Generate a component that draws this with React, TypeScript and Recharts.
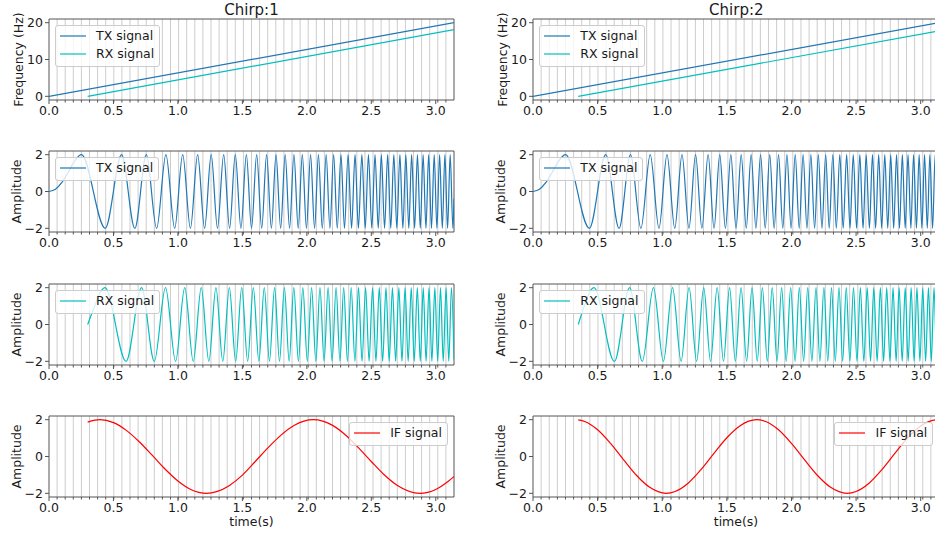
import React from 'react';
import { LineChart, Line, XAxis, YAxis, CartesianGrid, ReferenceArea, Legend } from 'recharts';

const FONT = '"DejaVu Sans", Verdana, sans-serif';
const TEXT = '#1a1a1a';
const SPINE = '#555555';
const GRID = '#cdcdcd';
const TX_COLOR = '#1f77b4';
const RX_COLOR = '#00bfbf';
const IF_COLOR = '#ff0000';

const X_MAX = 3.1416;
const xMajorTicks = [0, 0.5, 1.0, 1.5, 2.0, 2.5, 3.0];
const xMinorTicks = [0.0628, 0.1257, 0.1885, 0.2513, 0.3142, 0.377, 0.4398, 0.5027, 0.5655, 0.6283,
  0.6912, 0.754, 0.8168, 0.8796, 0.9425, 1.0053, 1.0681, 1.131, 1.1938, 1.2566,
  1.3195, 1.3823, 1.4451, 1.508, 1.5708, 1.6336, 1.6965, 1.7593, 1.8221, 1.885,
  1.9478, 2.0106, 2.0735, 2.1363, 2.1991, 2.2619, 2.3248, 2.3876, 2.4504, 2.5133,
  2.5761, 2.6389, 2.7018, 2.7646, 2.8274, 2.8903, 2.9531, 3.0159, 3.0788];
const freqTicks = [0, 10, 20];
const ampTicks = [-2, 0, 2];
const freqDomain = [-1, 21];
const ampDomain = [-2.2, 2.2];
const chirpTitles = ['Chirp:1', 'Chirp:2'];

// Frequency (Hz) vs time
const txFreqT = [0, 3.1416];
const txFreqV = [0, 20];
const rx1FreqT = [0.3, 3.1416];
const rx1FreqV = [0, 18.09];
const rx2FreqT = [0.35, 3.1416];
const rx2FreqV = [0, 17.77];

// TX amplitude (start, then crest/trough times)
const txAmpT = [0, 0.05, 0.1, 0.15, 0.2,
  0.252, 0.436, 0.563, 0.666, 0.755, 0.835, 0.907, 0.975, 1.037, 1.097,
  1.153, 1.207, 1.258, 1.307, 1.355, 1.401, 1.445, 1.489, 1.531, 1.571,
  1.611, 1.650, 1.688, 1.725, 1.761, 1.797, 1.832, 1.866, 1.900, 1.933,
  1.965, 1.997, 2.029, 2.060, 2.090, 2.120, 2.150, 2.179, 2.208, 2.236,
  2.265, 2.292, 2.320, 2.347, 2.374, 2.400, 2.427, 2.453, 2.478, 2.504,
  2.529, 2.554, 2.578, 2.603, 2.627, 2.651, 2.675, 2.698, 2.722, 2.745,
  2.768, 2.791, 2.813, 2.836, 2.858, 2.880, 2.902, 2.924, 2.945, 2.967,
  2.988, 3.009, 3.030, 3.051, 3.071, 3.092, 3.112, 3.133,
  3.1416];
const txAmpV = [0, 0.12, 0.49, 1.06, 1.67,
  2, -2, 2, -2, 2, -2, 2, -2, 2, -2,
  2, -2, 2, -2, 2, -2, 2, -2, 2, -2,
  2, -2, 2, -2, 2, -2, 2, -2, 2, -2,
  2, -2, 2, -2, 2, -2, 2, -2, 2, -2,
  2, -2, 2, -2, 2, -2, 2, -2, 2, -2,
  2, -2, 2, -2, 2, -2, 2, -2, 2, -2,
  2, -2, 2, -2, 2, -2, 2, -2, 2, -2,
  2, -2, 2, -2, 2, -2, 2, -2,
  -0.4];

// RX amplitude, chirp 1
const rx1AmpT = [0.3, 0.35, 0.4,
  0.434, 0.598, 0.718, 0.817, 0.904, 0.982, 1.053, 1.119, 1.181, 1.240,
  1.295, 1.348, 1.399, 1.448, 1.495, 1.541, 1.585, 1.628, 1.670, 1.710,
  1.750, 1.788, 1.826, 1.863, 1.899, 1.935, 1.969, 2.004, 2.037, 2.070,
  2.102, 2.134, 2.165, 2.196, 2.227, 2.257, 2.286, 2.315, 2.344, 2.373,
  2.401, 2.428, 2.456, 2.483, 2.510, 2.536, 2.562, 2.588, 2.614, 2.639,
  2.664, 2.689, 2.714, 2.738, 2.762, 2.786, 2.810, 2.833, 2.857, 2.880,
  2.903, 2.925, 2.948, 2.970, 2.993, 3.015, 3.037, 3.058, 3.080, 3.101,
  3.122,
  3.1416];
const rx1AmpV = [0, 0.92, 1.77,
  2, -2, 2, -2, 2, -2, 2, -2, 2, -2,
  2, -2, 2, -2, 2, -2, 2, -2, 2, -2,
  2, -2, 2, -2, 2, -2, 2, -2, 2, -2,
  2, -2, 2, -2, 2, -2, 2, -2, 2, -2,
  2, -2, 2, -2, 2, -2, 2, -2, 2, -2,
  2, -2, 2, -2, 2, -2, 2, -2, 2, -2,
  2, -2, 2, -2, 2, -2, 2, -2, 2, -2,
  2,
  -1.9];

// RX amplitude, chirp 2
const rx2AmpT = [0.35, 0.4, 0.45,
  0.472, 0.630, 0.748, 0.846, 0.932, 1.009, 1.080, 1.146, 1.208, 1.266,
  1.321, 1.374, 1.425, 1.474, 1.521, 1.566, 1.610, 1.653, 1.695, 1.735,
  1.775, 1.813, 1.851, 1.888, 1.924, 1.959, 1.994, 2.028, 2.061, 2.094,
  2.126, 2.158, 2.190, 2.220, 2.251, 2.281, 2.310, 2.339, 2.368, 2.396,
  2.424, 2.452, 2.480, 2.507, 2.533, 2.560, 2.586, 2.612, 2.637, 2.663,
  2.688, 2.713, 2.737, 2.762, 2.786, 2.810, 2.833, 2.857, 2.880, 2.903,
  2.926, 2.949, 2.971, 2.994, 3.016, 3.038, 3.060, 3.082, 3.103, 3.124,
  3.1416];
const rx2AmpV = [0, 1.06, 1.89,
  2, -2, 2, -2, 2, -2, 2, -2, 2, -2,
  2, -2, 2, -2, 2, -2, 2, -2, 2, -2,
  2, -2, 2, -2, 2, -2, 2, -2, 2, -2,
  2, -2, 2, -2, 2, -2, 2, -2, 2, -2,
  2, -2, 2, -2, 2, -2, 2, -2, 2, -2,
  2, -2, 2, -2, 2, -2, 2, -2, 2, -2,
  2, -2, 2, -2, 2, -2, 2, -2, 2, -2,
  1.65];

// IF signal, chirp 1
const if1T = [0.3, 0.395, 0.5, 0.6, 0.7, 0.8, 0.9, 1.0, 1.1, 1.223,
  1.3, 1.4, 1.5, 1.6, 1.7, 1.8, 1.9, 2.05, 2.2, 2.3,
  2.4, 2.5, 2.6, 2.7, 2.878, 3.0, 3.1, 3.1416];
const if1V = [1.87, 2, 1.84, 1.42, 0.80, 0.07, -0.68, -1.33, -1.79, -2,
  -1.91, -1.57, -1.01, -0.27, 0.48, 1.16, 1.68, 2, 1.69, 1.17,
  0.48, -0.27, -0.99, -1.56, -2, -1.79, -1.33, -1.09];

// IF signal, chirp 2
const if2T = [0.35, 0.4, 0.5, 0.6, 0.7, 0.8, 0.9, 1.031, 1.1, 1.2,
  1.3, 1.4, 1.5, 1.6, 1.731, 1.8, 1.9, 2.0, 2.1, 2.2,
  2.3, 2.431, 2.5, 2.6, 2.7, 2.8, 2.9, 3.0, 3.131, 3.1416];
const if2V = [1.99, 1.90, 1.45, 0.71, -0.17, -1.02, -1.66, -2, -1.90, -1.45,
  -0.71, 0.17, 1.02, 1.66, 2, 1.90, 1.45, 0.71, -0.17, -1.02,
  -1.66, -2, -1.90, -1.45, -0.71, 0.17, 1.02, 1.66, 2, 2];

const rows = (ts: number[], vs: number[]) => ts.map((t, i) => ({ t, v: vs[i] }));
const allXTicks = [...xMajorTicks, ...xMinorTicks].sort((a, b) => a - b);

// layout
const Y_AXIS_W = 49;
const MARGIN_R = 16;
const PLOT_TOP = 19;
const PLOT_H = 81;
const X_AXIS_H = 30;
const LEGEND_PAD = 6;
const LINE_W = 1.2;
const COLS = [
  { left: 0, plotW: 405 },
  { left: 484.3, plotW: 406 },
];
const ROWS = [
  { top: -0.5, h: 132 },
  { top: 132.1, h: 132 },
  { top: 264.7, h: 132 },
  { top: 397.3, h: 138 },
];

const fmtY = (v: number) => (v < 0 ? '\u2212' + Math.abs(v) : String(v));
const tickStyle = { fill: TEXT, fontSize: 12.5, fontFamily: FONT };

function XTick(props: any) {
  const { x, y, payload } = props;
  const v = payload.value;
  const major = xMajorTicks.indexOf(v) >= 0;
  return (
    <g>
      <line x1={x} x2={x} y1={y} y2={y + (major ? 4 : 2.5)} stroke={SPINE} strokeWidth={1} />
      {major && (
        <text x={x} y={y + 6} dy="0.71em" textAnchor="middle" fill={TEXT} fontSize={12.5} fontFamily={FONT}>
          {v.toFixed(1)}
        </text>
      )}
    </g>
  );
}

function YTitle(props: any) {
  const { viewBox, text, gap } = props;
  if (!viewBox) return null;
  const cx = viewBox.x + viewBox.width - gap;
  const cy = viewBox.y + viewBox.height / 2;
  return (
    <text x={cx} y={cy} transform={`rotate(-90 ${cx} ${cy})`} textAnchor="middle" dominantBaseline="central"
      fill={TEXT} fontSize={12.5} fontFamily={FONT}>{text}</text>
  );
}

function XTitle(props: any) {
  const { viewBox, text } = props;
  if (!viewBox) return null;
  const cx = viewBox.x + viewBox.width / 2;
  return (
    <text x={cx} y={viewBox.y + 29} textAnchor="middle" fill={TEXT} fontSize={12.5} fontFamily={FONT}>{text}</text>
  );
}

type SeriesDef = { name: string; color: string; t: number[]; v: number[]; curve: 'linear' | 'monotone' };

function LegendBox({ items }: { items: SeriesDef[] }) {
  return (
    <div style={{
      background: 'rgba(255,255,255,0.8)', border: '1px solid #cccccc', borderRadius: 3,
      padding: '3px 5px 5px 4px', fontFamily: FONT, fontSize: 12.5, color: TEXT, whiteSpace: 'nowrap',
    }}>
      {items.map((p, i) => (
        <div key={i} style={{ display: 'flex', alignItems: 'center', height: 14, marginTop: i ? 4 : 0 }}>
          <svg width={26} height={14} style={{ display: 'block' }}>
            <line x1={0} y1={7} x2={26} y2={7} stroke={p.color} strokeWidth={LINE_W} />
          </svg>
          <span style={{ marginLeft: 10, lineHeight: '14px' }}>{p.name}</span>
        </div>
      ))}
    </div>
  );
}

function Panel(props: {
  col: number; row: number; yDomain: number[]; yTicks: number[]; yLabel: string; yGap: number;
  series: SeriesDef[]; legend: 'left' | 'right'; xLabel?: string;
}) {
  const { col, row, yDomain, yTicks, yLabel, yGap, series, legend, xLabel } = props;
  const c = COLS[col];
  const r = ROWS[row];
  const chartW = Y_AXIS_W + c.plotW + MARGIN_R;
  const marginBottom = r.h - PLOT_TOP - PLOT_H - X_AXIS_H;
  const legendStyle: any = legend === 'left'
    ? { left: Y_AXIS_W + LEGEND_PAD, top: PLOT_TOP + LEGEND_PAD, right: 'auto', bottom: 'auto', width: 'auto', height: 'auto' }
    : { left: 'auto', right: MARGIN_R + LEGEND_PAD, top: PLOT_TOP + LEGEND_PAD, bottom: 'auto', width: 'auto', height: 'auto' };
  const gridProps: any = { verticalValues: xMinorTicks };
  return (
    <div style={{ position: 'absolute', left: c.left, top: r.top, width: chartW, height: r.h }}>
      <LineChart width={chartW} height={r.h} margin={{ top: PLOT_TOP, right: MARGIN_R, bottom: marginBottom, left: 0 }}>
        <CartesianGrid horizontal={false} stroke={GRID} strokeWidth={1} {...gridProps} />
        <XAxis type="number" dataKey="t" domain={[0, X_MAX]} allowDataOverflow ticks={allXTicks} interval={0}
          tick={<XTick />} tickSize={0} tickMargin={0} tickLine={false}
          axisLine={false} height={X_AXIS_H}
          label={xLabel ? <XTitle text={xLabel} /> : undefined} />
        <YAxis type="number" domain={yDomain} allowDataOverflow ticks={yTicks} interval={0} tickFormatter={fmtY}
          tick={tickStyle} tickSize={4} tickMargin={2} stroke={SPINE} axisLine={false} width={Y_AXIS_W}
          label={<YTitle text={yLabel} gap={yGap} />} />
        {series.map((s) => (
          <Line key={s.name} data={rows(s.t, s.v)} dataKey="v" name={s.name} type={s.curve} stroke={s.color}
            strokeWidth={LINE_W} dot={false} activeDot={false} isAnimationActive={false} />
        ))}
        <ReferenceArea x1={0} x2={X_MAX} y1={yDomain[0]} y2={yDomain[1]} fill="none" fillOpacity={0}
          stroke={SPINE} strokeWidth={1} ifOverflow="visible" />
        <Legend layout="vertical" align="center" verticalAlign="middle" wrapperStyle={legendStyle}
          content={() => <LegendBox items={series} />} />
      </LineChart>
    </div>
  );
}

export default function App() {
  const rxFreq = [{ t: rx1FreqT, v: rx1FreqV }, { t: rx2FreqT, v: rx2FreqV }];
  const rxAmp = [{ t: rx1AmpT, v: rx1AmpV }, { t: rx2AmpT, v: rx2AmpV }];
  const ifAmp = [{ t: if1T, v: if1V }, { t: if2T, v: if2V }];
  return (
    <div style={{ position: 'fixed', left: 0, top: 0, width: 935, height: 535, overflow: 'hidden', background: '#ffffff', fontFamily: FONT }}>
      {[0, 1].map((col) => (
        <React.Fragment key={col}>
          <div style={{
            position: 'absolute', left: COLS[col].left + Y_AXIS_W, width: COLS[col].plotW, top: 1,
            textAlign: 'center', fontSize: 15, lineHeight: '18px', color: TEXT, fontFamily: FONT,
          }}>{chirpTitles[col]}</div>
          <Panel col={col} row={0} yDomain={freqDomain} yTicks={freqTicks} yLabel="Frequency (Hz)" yGap={30.5}
            legend="left"
            series={[
              { name: 'TX signal', color: TX_COLOR, t: txFreqT, v: txFreqV, curve: 'linear' },
              { name: 'RX signal', color: RX_COLOR, t: rxFreq[col].t, v: rxFreq[col].v, curve: 'linear' },
            ]} />
          <Panel col={col} row={1} yDomain={ampDomain} yTicks={ampTicks} yLabel="Amplitude" yGap={32.8}
            legend="left"
            series={[{ name: 'TX signal', color: TX_COLOR, t: txAmpT, v: txAmpV, curve: 'monotone' }]} />
          <Panel col={col} row={2} yDomain={ampDomain} yTicks={ampTicks} yLabel="Amplitude" yGap={32.8}
            legend="left"
            series={[{ name: 'RX signal', color: RX_COLOR, t: rxAmp[col].t, v: rxAmp[col].v, curve: 'monotone' }]} />
          <Panel col={col} row={3} yDomain={ampDomain} yTicks={ampTicks} yLabel="Amplitude" yGap={32.8}
            legend="right" xLabel="time(s)"
            series={[{ name: 'IF signal', color: IF_COLOR, t: ifAmp[col].t, v: ifAmp[col].v, curve: 'monotone' }]} />
        </React.Fragment>
      ))}
    </div>
  );
}
